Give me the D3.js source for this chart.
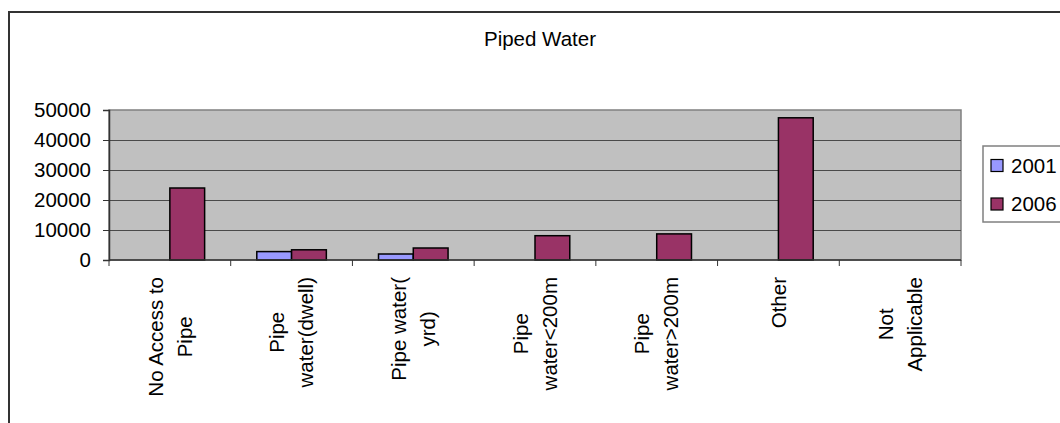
<!DOCTYPE html>
<html>
<head>
<meta charset="utf-8">
<script src="https://cdn.jsdelivr.net/npm/d3@7"></script>
<style>
  body { margin: 0; background: #fff; }
  text { font-family: "Liberation Sans", Arial, sans-serif; fill: #000; }
</style>
</head>
<body>
<svg id="chart" width="1060" height="423"></svg>
<script>
const categories = ["No Access to\nPipe", "Pipe\nwater(dwell)", "Pipe water(\nyrd)", "Pipe\nwater<200m", "Pipe\nwater>200m", "Other", "Not\nApplicable"];
const seriesNames = ["2001", "2006"];
const values2001 = [0, 2800, 2000, 0, 0, 0, 0];
const values2006 = [24000, 3400, 4000, 8100, 8700, 47400, 0];
const yTicks = [0, 10000, 20000, 30000, 40000, 50000];
const colors = ["#9999ff", "#993366"];

const svg = d3.select("#chart");
const fontSize = 20.5;

const plot = { left: 109, right: 961, top: 110, bottom: 260 };

// chart area border (runs off the right / bottom edge)
svg.append("rect")
  .attr("x", 9).attr("y", 12)
  .attr("width", 1200).attr("height", 600)
  .attr("fill", "#fff")
  .attr("stroke", "#333").attr("stroke-width", 2);

svg.append("text")
  .attr("x", 540).attr("y", 46)
  .attr("text-anchor", "middle")
  .style("font-size", fontSize + "px")
  .text("Piped Water");

const x = d3.scaleBand()
  .domain(d3.range(categories.length))
  .range([plot.left, plot.right])
  .paddingInner(0).paddingOuter(0);

const x1 = d3.scaleBand()
  .domain(seriesNames)
  .range([0, x.bandwidth()])
  .paddingInner(0).paddingOuter(0.75);

const y = d3.scaleLinear().domain([0, 50000]).range([plot.bottom, plot.top]);

// plot area
svg.append("rect")
  .attr("x", plot.left).attr("y", plot.top)
  .attr("width", plot.right - plot.left).attr("height", plot.bottom - plot.top)
  .attr("fill", "#c0c0c0")
  .attr("stroke", "#808080").attr("stroke-width", 1.5);

// gridlines
svg.append("g").selectAll("line")
  .data(yTicks.filter(d => d > 0 && d < 50000))
  .enter().append("line")
  .attr("x1", plot.left).attr("x2", plot.right)
  .attr("y1", d => Math.round(y(d)) + 0.5).attr("y2", d => Math.round(y(d)) + 0.5)
  .attr("stroke", "#4a4a4a").attr("stroke-width", 1);

// y axis
const yAxis = svg.append("g")
  .attr("transform", `translate(${plot.left},0)`)
  .call(d3.axisLeft(y).tickValues(yTicks).tickFormat(d3.format("d")).tickSize(6).tickPadding(12));
yAxis.select(".domain").attr("stroke", "#333").attr("stroke-width", 1.5);
yAxis.selectAll(".tick line").attr("stroke", "#333");
yAxis.selectAll("text")
  .style("font-size", fontSize + "px")
  .style("font-family", '"Liberation Sans", Arial, sans-serif')
  .attr("fill", "#000");

// bars
const series = [values2001, values2006];
series.forEach((vals, si) => {
  svg.append("g").selectAll("rect")
    .data(vals.map((v, i) => ({ i, v })).filter(d => d.v > 0))
    .enter().append("rect")
    .attr("x", d => x(d.i) + x1(seriesNames[si]))
    .attr("y", d => y(d.v))
    .attr("width", x1.bandwidth())
    .attr("height", d => y(0) - y(d.v))
    .attr("fill", colors[si])
    .attr("stroke", "#000").attr("stroke-width", 1.5);
});

// x axis line + ticks at category boundaries
svg.append("line")
  .attr("x1", plot.left).attr("x2", plot.right)
  .attr("y1", plot.bottom).attr("y2", plot.bottom)
  .attr("stroke", "#333").attr("stroke-width", 1.5);
const bounds = d3.range(categories.length).map(i => x(i)).concat([plot.right]);
svg.append("g").selectAll("line")
  .data(bounds)
  .enter().append("line")
  .attr("x1", d => d).attr("x2", d => d)
  .attr("y1", plot.bottom).attr("y2", plot.bottom + 6)
  .attr("stroke", "#333").attr("stroke-width", 1);

// rotated category labels
const lh = 29;
categories.forEach((c, i) => {
  const lines = c.split("\n");
  const g = svg.append("g")
    .attr("transform", `translate(${x(i) + x.bandwidth() / 2},277) rotate(-90)`);
  const texts = lines.map((ln, k) => g.append("text")
    .attr("y", (k - (lines.length - 1) / 2) * lh + 0.35 * fontSize)
    .attr("text-anchor", "middle")
    .style("font-size", fontSize + "px")
    .text(ln));
  const w = d3.max(texts, t => t.node().getComputedTextLength());
  texts.forEach(t => t.attr("x", -w / 2));
});

// legend
const legend = svg.append("g");
legend.append("rect")
  .attr("x", 983).attr("y", 146)
  .attr("width", 200).attr("height", 76)
  .attr("fill", "#fff")
  .attr("stroke", "#808080").attr("stroke-width", 1.5);
seriesNames.forEach((s, i) => {
  legend.append("rect")
    .attr("x", 991).attr("y", 159.5 + i * 38.5)
    .attr("width", 12).attr("height", 12)
    .attr("fill", colors[i])
    .attr("stroke", "#000").attr("stroke-width", 1.2);
  legend.append("text")
    .attr("x", 1011).attr("y", 172.5 + i * 38.5)
    .style("font-size", fontSize + "px")
    .text(s);
});
</script>
</body>
</html>
